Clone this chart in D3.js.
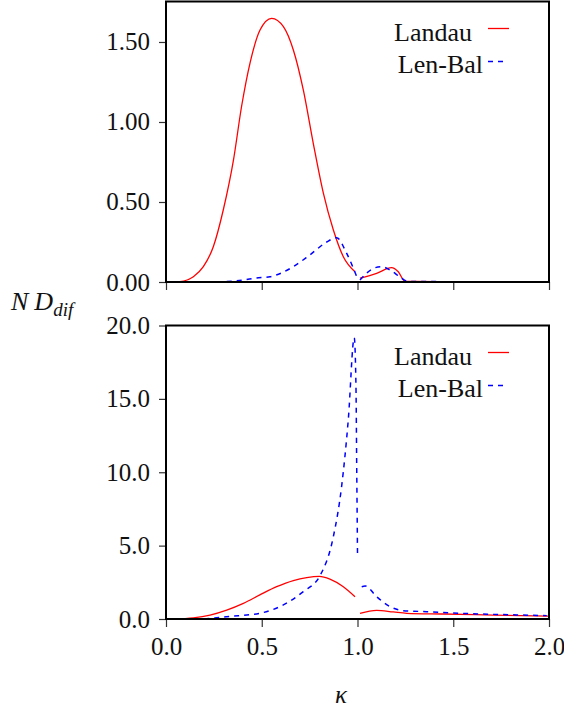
<!DOCTYPE html>
<html>
<head>
<meta charset="utf-8">
<script src="https://cdn.jsdelivr.net/npm/d3@7"></script>
<style>
  body { margin: 0; background: #fff; }
  text { font-family: "Liberation Serif", "DejaVu Serif", "Noto Serif", serif; fill: #111; }
</style>
</head>
<body>
<div id="chart"></div>
<script>
// Chart data: each series is a list of segments, each segment a list of [kappa, value]
var xTicks = [0, 0.5, 1.0, 1.5, 2.0];
var xTickLabels = ["0.0", "0.5", "1.0", "1.5", "2.0"];
var topTicks = [0, 0.5, 1.0, 1.5];
var topTickLabels = ["0.00", "0.50", "1.00", "1.50"];
var bottomTicks = [0, 5, 10, 15, 20];
var bottomTickLabels = ["0.0", "5.0", "10.0", "15.0", "20.0"];
var seriesNames = ["Landau", "Len-Bal"];

var landauTop = [
  [[0.04, 0], [0.073, 0.002], [0.143, 0.033], [0.195, 0.096], [0.247, 0.22], [0.299, 0.45],
   [0.352, 0.76], [0.395, 1.10], [0.439, 1.37], [0.491, 1.575], [0.552, 1.648], [0.613, 1.596],
   [0.665, 1.45], [0.717, 1.2], [0.769, 0.867], [0.822, 0.554], [0.874, 0.325], [0.926, 0.158],
   [0.987, 0.064]],
  [[1.013, 0.024], [1.1, 0.054], [1.178, 0.09], [1.213, 0.064], [1.248, 0.004], [1.3, 0.003],
   [1.55, 0.002], [2.0, 0.0]]
];
var lenBalTop = [
  [[0.265, 0.0], [0.404, 0.0125], [0.47, 0.025], [0.543, 0.033], [0.665, 0.096], [0.752, 0.17],
   [0.839, 0.25], [0.891, 0.277], [0.943, 0.18], [0.996, 0.033]],
  [[1.013, 0.012], [1.083, 0.085], [1.126, 0.096], [1.17, 0.075], [1.22, 0.033], [1.257, 0.006],
   [1.3, 0.003], [1.55, 0.002], [2.0, 0.0]]
];
var landauBottom = [
  [[0.04, 0.0], [0.143, 0.08], [0.23, 0.27], [0.317, 0.61], [0.404, 1.07], [0.49, 1.64],
   [0.578, 2.2], [0.665, 2.62], [0.735, 2.82], [0.8, 2.9], [0.856, 2.72], [0.926, 2.2],
   [0.987, 1.52]],
  [[1.013, 0.39], [1.1, 0.59], [1.187, 0.48], [1.257, 0.39], [1.448, 0.34], [1.709, 0.27],
   [1.996, 0.2]]
];
var lenBalBottom = [
  [[0.2, 0.0], [0.317, 0.16], [0.49, 0.39], [0.613, 0.96], [0.717, 1.87], [0.804, 2.95],
   [0.874, 5.62], [0.917, 9.03], [0.952, 13.6], [0.983, 19.16], [0.992, 15.86], [0.996, 10.2],
   [1.0, 4.48]],
  [[1.022, 2.2], [1.04, 2.25], [1.1, 1.52], [1.17, 0.84], [1.239, 0.57], [1.36, 0.5],
   [1.535, 0.39], [1.709, 0.32], [1.988, 0.23]]
];

var svgWidth = 564;
var svgHeight = 713;
var fontList = '"Liberation Serif", "DejaVu Serif", "Noto Serif", serif';

var svg = d3.select("#chart")
  .append("svg")
  .attr("width", svgWidth)
  .attr("height", svgHeight);

var xScale = d3.scaleLinear().domain([0, 2]).range([166, 549]);

var panels = [
  { top: 1.5, bottom: 282, domain: [0, 1.753], ticks: topTicks, labels: topTickLabels,
    landau: landauTop, lenBal: lenBalTop, showX: false },
  { top: 325.5, bottom: 619, domain: [0, 20], ticks: bottomTicks, labels: bottomTickLabels,
    landau: landauBottom, lenBal: lenBalBottom, showX: true }
];

panels.forEach(function(p, i) {
  var yScale = d3.scaleLinear().domain(p.domain).range([p.bottom, p.top]);

  // clip to the plot box
  svg.append("clipPath")
    .attr("id", "clip" + i)
    .append("rect")
    .attr("x", xScale.range()[0])
    .attr("y", p.top)
    .attr("width", xScale.range()[1] - xScale.range()[0])
    .attr("height", p.bottom - p.top);

  // y axis ticks + labels
  var leftAxis = d3.axisLeft(yScale)
    .tickValues(p.ticks)
    .tickFormat(function(d, j) { return p.labels[j]; })
    .tickSize(7)
    .tickPadding(9);
  var yAxis = svg.append("g")
    .attr("transform", `translate(${xScale.range()[0]}, 0)`)
    .attr("font-family", fontList)
    .call(leftAxis);
  yAxis.select(".domain").remove();
  yAxis.selectAll("line").attr("stroke", "#333").attr("stroke-width", 1.2);
  yAxis.selectAll("text").attr("font-size", 25).attr("fill", "#111");

  // x axis ticks
  var bottomAxis = d3.axisBottom(xScale)
    .tickValues(xTicks)
    .tickFormat(function(d, j) { return p.showX ? xTickLabels[j] : ""; })
    .tickSize(8)
    .tickPadding(10);
  var xAxis = svg.append("g")
    .attr("transform", `translate(0, ${p.bottom})`)
    .attr("font-family", fontList)
    .call(bottomAxis);
  xAxis.select(".domain").remove();
  xAxis.selectAll("line").attr("stroke", "#333").attr("stroke-width", 1.2);
  xAxis.selectAll("text").attr("font-size", 25).attr("fill", "#111");

  // curves
  var line = d3.line()
    .x(d => xScale(d[0]))
    .y(d => yScale(d[1]))
    .curve(d3.curveMonotoneX);

  var plot = svg.append("g").attr("clip-path", `url(#clip${i})`);

  p.landau.forEach(function(seg) {
    plot.append("path")
      .datum(seg)
      .attr("d", line)
      .attr("fill", "none")
      .attr("stroke", "#ff0000")
      .attr("stroke-width", 1.3);
  });
  p.lenBal.forEach(function(seg) {
    plot.append("path")
      .datum(seg)
      .attr("d", line)
      .attr("fill", "none")
      .attr("stroke", "#0000ff")
      .attr("stroke-width", 1.5)
      .attr("stroke-dasharray", "5,5");
  });

  // frame
  svg.append("rect")
    .attr("x", xScale.range()[0])
    .attr("y", p.top)
    .attr("width", xScale.range()[1] - xScale.range()[0])
    .attr("height", p.bottom - p.top)
    .attr("fill", "none")
    .attr("stroke", "#000")
    .attr("stroke-width", 2);

  // legend
  var legend = svg.append("g").attr("transform", `translate(0, ${p.top})`);
  legend.append("text")
    .attr("x", 472)
    .attr("y", 39)
    .attr("text-anchor", "end")
    .attr("font-size", 26)
    .text(seriesNames[0]);
  legend.append("line")
    .attr("x1", 488).attr("x2", 509)
    .attr("y1", 27).attr("y2", 27)
    .attr("stroke", "#ff0000")
    .attr("stroke-width", 1.3);
  legend.append("text")
    .attr("x", 483)
    .attr("y", 71)
    .attr("text-anchor", "end")
    .attr("font-size", 26)
    .text(seriesNames[1]);
  legend.append("line")
    .attr("x1", 488).attr("x2", 508)
    .attr("y1", 60).attr("y2", 60)
    .attr("stroke", "#0000ff")
    .attr("stroke-width", 1.5)
    .attr("stroke-dasharray", "5,5");
});

// y axis label
var yLabel = svg.append("text")
  .attr("x", 11)
  .attr("y", 310)
  .attr("font-size", 26)
  .attr("font-style", "italic");
yLabel.append("tspan").text("N");
yLabel.append("tspan").attr("dx", 6).text("D");
yLabel.append("tspan")
  .attr("dy", 6)
  .attr("font-size", 19)
  .text("dif");

// x axis label
svg.append("text")
  .attr("x", 341)
  .attr("y", 703)
  .attr("text-anchor", "middle")
  .attr("font-size", 25)
  .attr("font-style", "italic")
  .text("κ");
</script>
</body>
</html>
